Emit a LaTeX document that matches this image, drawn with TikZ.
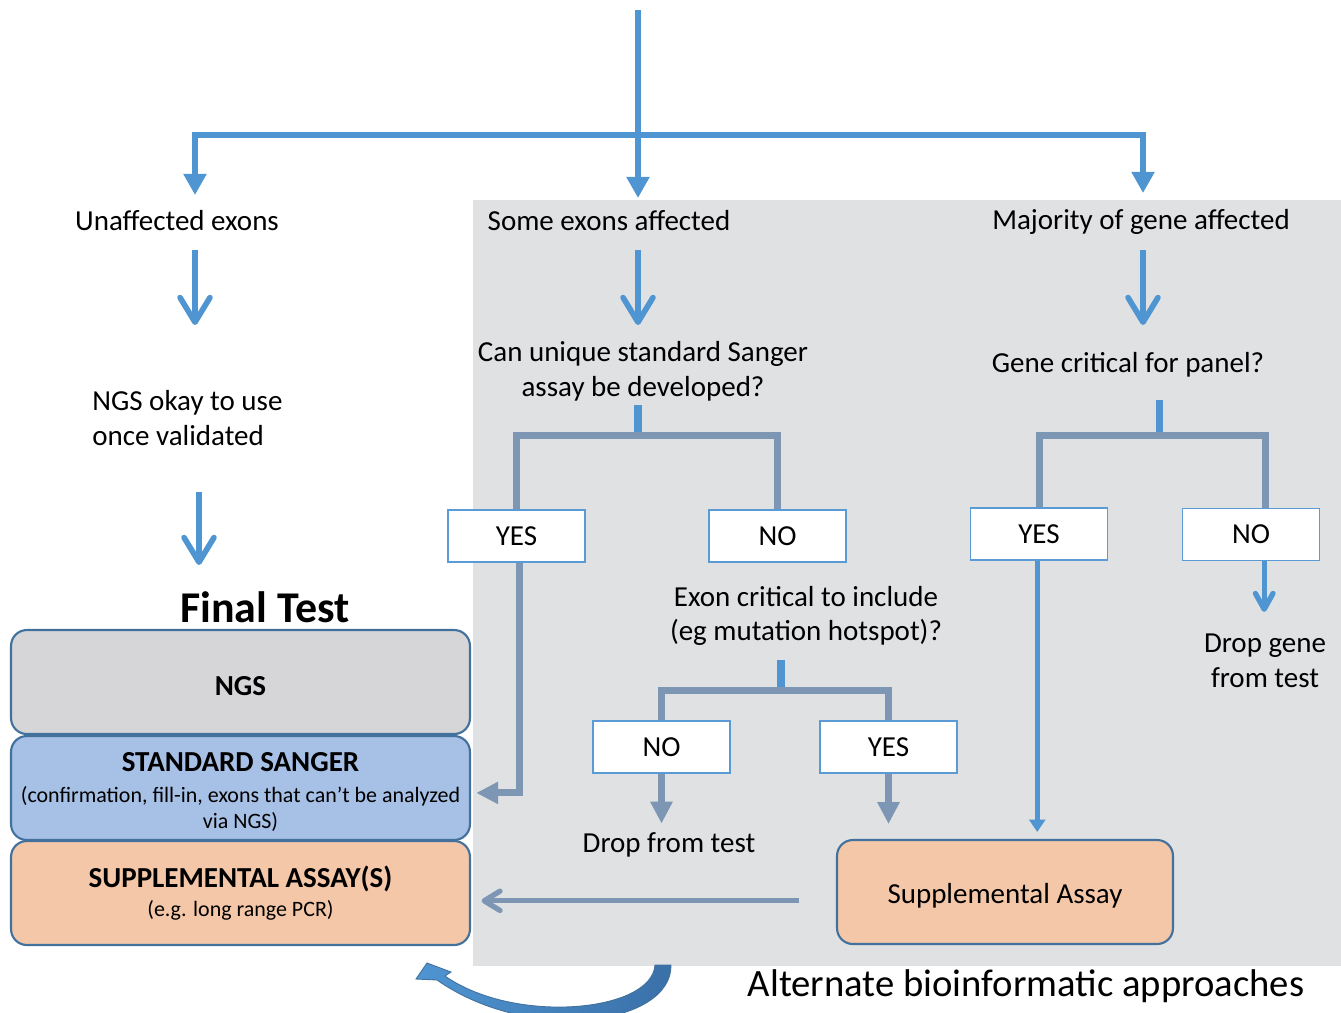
\documentclass[tikz,border=0pt]{standalone}
\usepackage{fontspec}
\setmainfont{Carlito}
\usepackage{xcolor}
\usetikzlibrary{arrows.meta}

\definecolor{flowblue}{RGB}{79,149,210}
\definecolor{steel}{RGB}{124,150,179}
\definecolor{panelgray}{RGB}{224,225,227}
\definecolor{boxedge}{RGB}{65,113,156}
\definecolor{ngsgray}{RGB}{214,214,216}
\definecolor{sangerblue}{RGB}{167,192,230}
\definecolor{suppeach}{RGB}{244,199,168}
\definecolor{yesedge}{RGB}{91,155,213}
\definecolor{swooshdark}{RGB}{58,112,168}

\newcommand{\flowfont}{\fontsize{16.5}{19.8}\selectfont}
\newcommand{\notefont}{\fontsize{12.5}{14.8}\selectfont}

\begin{document}
\begin{tikzpicture}[x=0.02cm, y=-0.02cm,
    label/.style={font=\flowfont, align=center, inner sep=0pt},
    choice/.style={draw=yesedge, line width=1.1pt, fill=white, minimum width=2.74cm,
        minimum height=1.04cm, font=\flowfont, inner sep=0pt},
    layer/.style={draw=boxedge, line width=1.2pt, rounded corners=9pt, minimum width=9.18cm,
        minimum height=2.08cm, align=center, inner sep=0pt},
    feed/.style={flowblue, line width=3.6pt},
    feedhead/.style={feed, -{Triangle[width=12.5pt,length=12pt]}},
    chev/.style={flowblue, line width=3.2pt, -{Straight Barb[length=14pt,width=17pt,round]}},
    smallchev/.style={flowblue, line width=3pt, -{Straight Barb[length=9pt,width=10pt,round]}},
    stub/.style={flowblue, line width=4pt},
    bracket/.style={steel, line width=4pt},
    steelhead/.style={steel, line width=4pt, -{Triangle[width=12pt,length=12.5pt]}},
    steelchev/.style={steel, line width=3pt, -{Straight Barb[length=9pt,width=11pt,round]}},
    thinhead/.style={flowblue, line width=2.8pt, -{Triangle[width=9pt,length=7pt]}}
]
    \useasboundingbox (0,0) rectangle (1341,1012);

    % Shaded panel
    \fill[panelgray] (473,200) rectangle (1341,966);

    % Top split
    \coordinate (src) at (638,10);
    \coordinate (split) at (638,135);
    \coordinate (e1) at (195,195);
    \coordinate (e2) at (638,198);
    \coordinate (e3) at (1143,193);
    \draw[feed] (src) -- (split);
    \draw[feedhead] (split) -| (e1);
    \draw[feedhead] (split) -- (e2);
    \draw[feedhead] (split) -| (e3);

    \node[label] (unaff) at (177,221) {Unaffected exons};
    \node[label] (some) at (609,221) {Some exons affected};
    \node[label] (most) at (1141,222) {Majority of gene affected};

    % Left column
    \coordinate (ua) at (195,250);
    \coordinate (ub) at (195,325);
    \draw[chev] (ua) -- (ub);
    \node[label, align=left, anchor=west] (ngsok) at (92,418) {NGS okay to use\\ once validated};
    \coordinate (na) at (199,492);
    \coordinate (nb) at (199,565);
    \draw[chev] (na) -- (nb);

    \node[font=\bfseries\fontsize{25}{28}\selectfont, inner sep=0pt] (final) at (265,607) {Final Test};
    \node[layer, fill=ngsgray, font=\bfseries\flowfont] (ngs) at (240.5,682) {\rule{0pt}{16pt}NGS};
    \node[layer, fill=sangerblue, font=\notefont] (sanger) at (240.5,788)
        {\rule{0pt}{15.5pt}\textbf{\flowfont STANDARD SANGER}\\[3pt]
         (confirmation, fill-in, exons that can’t be analyzed\\ via NGS)};
    \node[layer, fill=suppeach, font=\notefont] (suppl) at (240.5,893)
        {\textbf{\flowfont SUPPLEMENTAL ASSAY(S)}\\[2pt]
         (e.g. long range PCR)};

    % Middle column
    \coordinate (sa) at (638,250);
    \coordinate (sb) at (638,325);
    \draw[chev] (sa) -- (sb);
    \node[label] (q1) at (643,371) {Can unique standard Sanger\\ assay be developed?};
    \coordinate (s1) at (638,405);
    \coordinate (j1) at (638,435);
    \node[choice] (yes1) at (516.5,536) {YES};
    \node[choice] (no1) at (777.5,536) {NO};
    \draw[bracket] (yes1.north) |- (j1) -| (no1.north);
    \draw[stub] (s1) -- ([yshift=2pt]j1);

    \node[label] (q2) at (806,616) {Exon critical to include\\ (eg mutation hotspot)?};
    \coordinate (s2) at (781,660);
    \coordinate (j2) at (781,690);
    \node[choice] (no2) at (661.5,747) {NO};
    \node[choice] (yes2) at (888.5,747) {YES};
    \draw[bracket] (no2.north) |- (j2) -| (yes2.north);
    \draw[stub] (s2) -- ([yshift=2pt]j2);

    \node[label] (dropt) at (669,845) {Drop from test};
    \draw[steelhead, shorten >=5pt] (no2.south) -- (no2.south |- dropt.north);

    \node[layer, fill=suppeach, minimum width=6.72cm, font=\flowfont] (supp) at (1005,892) {\rule{0pt}{16pt}Supplemental Assay};
    \draw[steelhead, shorten >=8.5pt] (yes2.south) -- (yes2.south |- supp.north);

    \draw[steelhead, shorten >=3pt] ([xshift=1.5pt]yes1.south) |- ([yshift=-2.8pt]sanger.east);
    \draw[steelchev, shorten <=21pt, shorten >=6pt] ([yshift=-5pt]supp.west) -- ([yshift=-5pt]supp.west -| suppl.east);

    % Right column
    \coordinate (ma) at (1143,250);
    \coordinate (mb) at (1143,325);
    \draw[chev] (ma) -- (mb);
    \node[label] (q3) at (1128,365) {Gene critical for panel?};
    \coordinate (s3) at (1159,400);
    \coordinate (j3) at (1159,435);
    \node[choice] (yes3) at (1039,534) {YES};
    \node[choice] (no3) at (1251,534.5) {NO};
    \draw[bracket] (yes3.north) |- (j3) -| ([xshift=8pt]no3.north);
    \draw[stub] (s3) -- ([yshift=2pt]j3);

    \node[label] (dropg) at (1265,661) {Drop gene\\ from test};
    \draw[smallchev, shorten >=12.5pt] ([xshift=7.5pt]no3.south) -- ([xshift=7.5pt]no3.south |- dropg.north);
    \draw[thinhead, shorten >=4pt] ([xshift=-1pt]yes3.south) -- ([xshift=-1pt]yes3.south |- supp.north);

    % Loop back arrow
    \shadedraw[left color=flowblue, right color=swooshdark, draw=boxedge, line width=0.5pt]
        (671,965) .. controls (672,1025) and (530,1045) .. (437,980)
        -- (416,979) -- (427,963) -- (451,972) -- (445,976)
        .. controls (515,1025) and (652,1012) .. (655,965) -- cycle;
    \node[font=\fontsize{22}{26}\selectfont, inner sep=0pt] (alt) at (1026,986) {Alternate bioinformatic approaches};
\end{tikzpicture}
\end{document}
